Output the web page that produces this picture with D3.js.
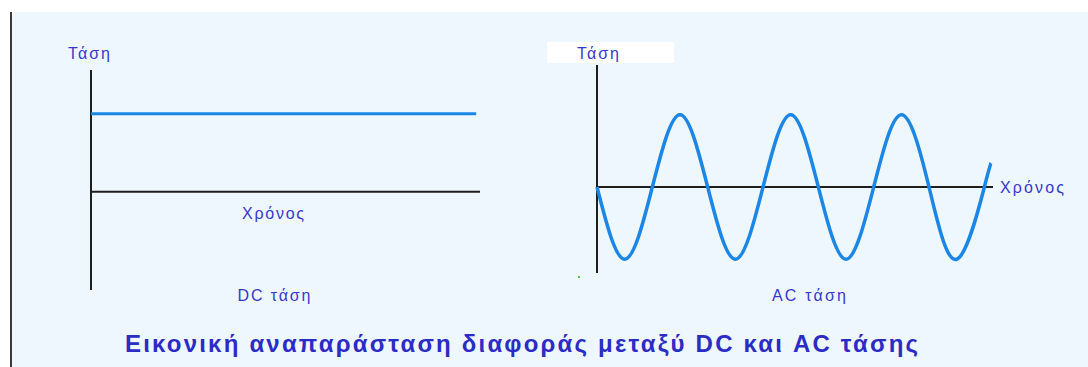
<!DOCTYPE html>
<html>
<head>
<meta charset="utf-8">
<script src="https://cdn.jsdelivr.net/npm/d3@7"></script>
<style>
  body { margin: 0; background: #fff; }
  svg text { font-family: "Liberation Sans", Arial, sans-serif; fill: #3636cf; }
</style>
</head>
<body>
<div id="chart"></div>
<script>
// DC panel: time (arbitrary units) and constant voltage
const dcTime = [0, 10];
const dcVolt = [1, 1];

// AC panel: time in quarter periods, voltage read from the peaks / crossings
const acTime = [0, 1, 2, 3, 4, 5, 6, 7, 8, 9, 10, 11, 12, 13, 14, 14.24];
const acVolt = [0, -1, 0, 1, 0, -1, 0, 1, 0, -1, 0, 1, 0, -1, 0, 0.33];

const labels = {
    volt: 'Τάση',
    time: 'Χρόνος',
    dc: 'DC τάση',
    ac: 'AC τάση',
    title: 'Εικονική αναπαράσταση διαφοράς μεταξύ DC και AC τάσης'
};

const width = 1088;
const height = 367;
const lineColor = '#1b86e6';

const svg = d3.select('#chart')
    .append('svg')
    .attr('width', width)
    .attr('height', height);

// light panel background + left border
svg.append('rect')
    .attr('x', 10)
    .attr('y', 12)
    .attr('width', width - 10)
    .attr('height', height - 12)
    .attr('fill', '#eef6fe');

svg.append('line')
    .attr('x1', 11).attr('x2', 11)
    .attr('y1', 12).attr('y2', height)
    .attr('stroke', '#3a3a3a')
    .attr('stroke-width', 2);

// ---------- DC panel ----------
const dcX = d3.scaleLinear().domain([0, 10.1]).range([91, 480]);
const dcY = d3.scaleLinear().domain([-1.26, 1.56]).range([290, 70]);

svg.append('line')
    .attr('x1', dcX(0)).attr('x2', dcX(0))
    .attr('y1', dcY(1.56)).attr('y2', dcY(-1.26))
    .attr('stroke', '#1e1e1e').attr('stroke-width', 2);

svg.append('line')
    .attr('x1', dcX(0)).attr('x2', dcX(10.1))
    .attr('y1', dcY(0)).attr('y2', dcY(0))
    .attr('stroke', '#1e1e1e').attr('stroke-width', 2);

svg.append('path')
    .datum(dcTime.map((t, i) => [t, dcVolt[i]]))
    .attr('fill', 'none')
    .attr('stroke', lineColor)
    .attr('stroke-width', 3)
    .attr('d', d3.line().x(d => dcX(d[0])).y(d => dcY(d[1])));

svg.append('text')
    .attr('x', 89).attr('y', 59)
    .attr('text-anchor', 'middle')
    .attr('font-size', 16)
    .attr('textLength', 42)
    .text(labels.volt);

svg.append('text')
    .attr('x', 273).attr('y', 219)
    .attr('text-anchor', 'middle')
    .attr('font-size', 16)
    .attr('textLength', 62)
    .text(labels.time);

svg.append('text')
    .attr('x', 274).attr('y', 301)
    .attr('text-anchor', 'middle')
    .attr('font-size', 16)
    .attr('textLength', 73)
    .text(labels.dc);

// ---------- AC panel ----------
const acX = d3.scaleLinear().domain([0, 14.24]).range([597, 991]);
const acY = d3.scaleLinear().domain([-1.19, 1.69]).range([273, 65]);

svg.append('rect')
    .attr('x', 547).attr('y', 42)
    .attr('width', 127).attr('height', 21)
    .attr('fill', '#ffffff');

svg.append('line')
    .attr('x1', acX(0)).attr('x2', acX(0))
    .attr('y1', acY(1.69)).attr('y2', acY(-1.19))
    .attr('stroke', '#1e1e1e').attr('stroke-width', 2);

svg.append('line')
    .attr('x1', acX(0)).attr('x2', acX(14.24) + 2)
    .attr('y1', acY(0)).attr('y2', acY(0))
    .attr('stroke', '#1e1e1e').attr('stroke-width', 2);

svg.append('path')
    .datum(acTime.map((t, i) => [t, acVolt[i]]))
    .attr('fill', 'none')
    .attr('stroke', lineColor)
    .attr('stroke-width', 3.5)
    .attr('d', d3.line().curve(d3.curveNatural).x(d => acX(d[0])).y(d => acY(d[1])));

svg.append('text')
    .attr('x', 598).attr('y', 59)
    .attr('text-anchor', 'middle')
    .attr('font-size', 16)
    .attr('textLength', 42)
    .text(labels.volt);

svg.append('text')
    .attr('x', 1000).attr('y', 193)
    .attr('font-size', 16)
    .attr('textLength', 64)
    .text(labels.time);

svg.append('text')
    .attr('x', 809).attr('y', 301)
    .attr('text-anchor', 'middle')
    .attr('font-size', 16)
    .attr('textLength', 74)
    .text(labels.ac);

// stray green pixel from the original
svg.append('rect')
    .attr('x', 578).attr('y', 276)
    .attr('width', 2).attr('height', 2)
    .attr('fill', '#44cc44');

// ---------- title ----------
svg.append('text')
    .attr('x', 125).attr('y', 352)
    .attr('font-size', 24)
    .attr('font-weight', 'bold')
    .attr('textLength', 793)
    .attr('lengthAdjust', 'spacing')
    .style('fill', '#2b2bc6')
    .text(labels.title);
</script>
</body>
</html>
